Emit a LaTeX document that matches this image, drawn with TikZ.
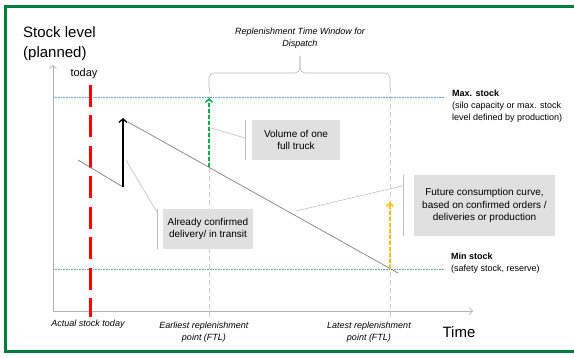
\documentclass[tikz,border=0pt]{standalone}
\usepackage{fontspec}
\setmainfont{Liberation Sans}
\usetikzlibrary{arrows.meta,positioning,calc}
\definecolor{frameGreen}{RGB}{0,125,60}
\definecolor{truckGreen}{RGB}{0,176,80}
\definecolor{levelBlue}{RGB}{91,155,213}
\definecolor{noteGrey}{RGB}{224,224,224}
\definecolor{ftlYellow}{RGB}{255,192,0}
\tikzset{
    axis/.style={
        draw=gray!60,
        line width=0.6pt,
        -{Straight Barb[length=3.5pt,width=7pt]},
    },
    level/.style={
        draw=levelBlue,
        densely dotted,
        line width=0.6pt,
    },
    usage/.style={
        draw=gray,
        line width=0.7pt,
    },
    ftl/.style={
        draw=gray!40,
        dash pattern=on 5pt off 3pt,
        line width=0.9pt,
    },
    refill/.style={
        dash pattern=on 4pt off 2pt,
        line width=1.3pt,
        -{Straight Barb[length=3.5pt,width=7pt]},
    },
    note/.style={
        fill=noteGrey,
        align=center,
        inner sep=0pt,
        font=\fontsize{10}{12.5}\selectfont,
    },
    callout/.style={
        draw=gray!50,
        line width=0.6pt,
    },
    tag/.style={
        align=center,
        inner sep=0pt,
        font=\fontsize{9}{12}\selectfont\itshape,
    },
    side/.style={
        align=left,
        anchor=north west,
        inner sep=0pt,
        font=\fontsize{9}{12}\selectfont,
    },
    big/.style={
        inner sep=0pt,
        font=\fontsize{15}{20}\selectfont,
    },
  }

\begin{document}
\begin{tikzpicture}[x=1pt,y=-1pt]
  \useasboundingbox (0,0) rectangle (574,358);
  \draw[frameGreen,line width=3pt] (574,6.5) -- (5.5,6.5) -- (5.5,352) -- (574,352);

  \coordinate (origin) at (53,311);
  \coordinate (ytip) at (53,65);
  \coordinate (xtip) at (473,311);
  \draw[axis] (origin) -- (ytip);
  \draw[axis] (origin) -- (xtip);

  \coordinate (maxL) at (53,97);
  \coordinate (maxR) at (445,97);
  \coordinate (minL) at (53,269);
  \coordinate (minR) at (445,269);
  \draw[level] (maxL) -- (maxR);
  \draw[level] (minL) -- (minR);

  \coordinate (eTop) at (209,88);
  \coordinate (eBot) at (209,318);
  \coordinate (lTop) at (390,88);
  \coordinate (lBot) at (390,318);
  \draw[ftl] (eTop) -- (eBot);
  \draw[ftl] (lTop) -- (lBot);
  \coordinate (brTip) at (300,56);
  \draw[draw=gray!55,line width=0.6pt,rounded corners=5pt] (eTop) -- (209,73) -- (300,73) -- (brTip);
  \draw[draw=gray!55,line width=0.6pt,rounded corners=5pt] (brTip) -- (300,73) -- (390,73) -- (lTop);

  \coordinate (tdTop) at (90,85);
  \coordinate (tdBot) at (90,317);
  \draw[red,line width=3pt,dash pattern=on 22pt off 8.5pt] (tdTop) -- (tdBot);

  \coordinate (c0) at (78,160);
  \coordinate (c1) at (123,187);
  \coordinate (c2) at (123,118);
  \coordinate (c3) at (128,122);
  \coordinate (c4) at (398,273);
  \draw[usage] (c0) -- (c1);
  \draw[black,line width=1.3pt,-{Straight Barb[length=3.5pt,width=8pt]}] (c1) -- (c2);
  \draw[usage] (c3) -- (c4);

  \coordinate (gFoot) at (209,167);
  \coordinate (gHead) at (209,98);
  \coordinate (yFoot) at (390,269);
  \coordinate (yHead) at (390,202);
  \draw[refill,truckGreen] (gFoot) -- (gHead);
  \draw[refill,ftlYellow] (yFoot) -- (yHead);

  \node[note,minimum width=88pt,minimum height=40pt] (vol) at (296,140) {Volume of one\\full truck};
  \node[note,minimum width=90pt,minimum height=40pt] (dlv) at (208,229) {Already confirmed\\delivery/ in transit};
  \node[note,minimum width=141pt,minimum height=61pt] (fut) at (484.5,205.5) {Future consumption curve,\\based on confirmed orders /\\deliveries or production};

  \draw[callout] ($(vol.north west)+(-7,0)$) -- ($(vol.south west)+(-7,0)$);
  \draw[callout] (211,128) -- ($(vol.west)+(-7,-2)$);
  \draw[callout] ($(dlv.north west)+(-6,0)$) -- ($(dlv.south west)+(-6,0)$);
  \draw[callout] (126,160) -- ($(dlv.north west)+(-6,3)$);
  \draw[callout] ($(fut.north west)+(-11,0)$) -- ($(fut.south west)+(-11,0)$);
  \draw[callout] (296,211) -- ($(fut.north west)+(-11,11)$);

  \node[big,align=left,anchor=north west] (ylab) at (23,26) {Stock level\\(planned)};
  \node[big] (xlab) at (459,332) {Time};
  \node[inner sep=0pt,font=\fontsize{11}{13}\selectfont] (today) at (84,74) {today};
  \node[tag] (window) at (300,38) {Replenishment Time Window for\\Dispatch};
  \node[tag] (actual) at (88,324) {Actual stock today};
  \node[tag] (early) at (204,332) {Earliest replenishment\\point (FTL)};
  \node[tag] (late) at (369,332) {Latest replenishment\\point (FTL)};
  \node[side] (maxtxt) at (452,90) {\textbf{Max. stock}\\(silo capacity or max. stock\\level defined by production)};
  \node[side] (mintxt) at (451,253) {\textbf{Min stock}\\(safety stock, reserve)};
\end{tikzpicture}
\end{document}
